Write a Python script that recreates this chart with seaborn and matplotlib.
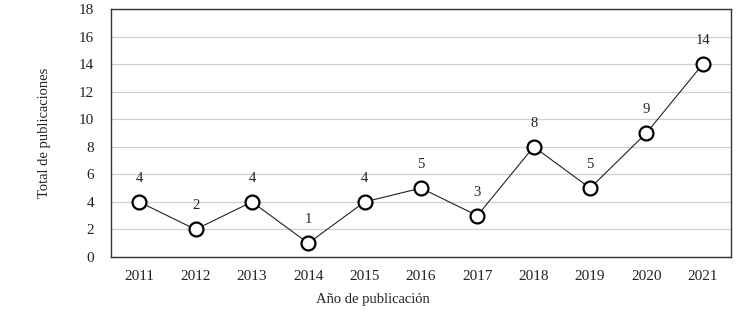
import matplotlib
matplotlib.use("Agg")
import matplotlib.pyplot as plt
import seaborn as sns
import pandas as pd

years = ["2011", "2012", "2013", "2014", "2015", "2016", "2017", "2018", "2019", "2020", "2021"]
counts = [4, 2, 4, 1, 4, 5, 3, 8, 5, 9, 14]
y_ticks = [0, 2, 4, 6, 8, 10, 12, 14, 16, 18]

sns.set_theme(style="white")
plt.rcParams["font.family"] = ["Liberation Serif", "DejaVu Serif"]

df = pd.DataFrame({"year": years, "count": counts})

fig = plt.figure(figsize=(7.43, 3.15), dpi=100)
ax = fig.add_axes([111 / 743, 1 - 257 / 315, 620 / 743, 248 / 315])

for t in y_ticks:
    ax.axhline(t, color="#d0d0d0", lw=0.9, zorder=0)

sns.lineplot(data=df, x="year", y="count", ax=ax, color="#222222", lw=0.8,
             marker="o", markersize=10, markerfacecolor="white",
             markeredgecolor="black", markeredgewidth=1.6, sort=False, zorder=3)

for i, v in enumerate(counts):
    ax.annotate(str(v), (i, v), xytext=(0, 17), textcoords="offset points",
                ha="center", va="center", fontsize=10.5, color="#222222")

ax.set_xlim(-0.5, 10.5)
ax.set_ylim(0, 18)
ax.set_yticks(y_ticks)
ax.tick_params(axis="both", length=0, labelsize=11, colors="#222222")
ax.tick_params(axis="x", pad=9)
ax.tick_params(axis="y", pad=12)
for s in ax.spines.values():
    s.set_color("#333333")
    s.set_linewidth(1.0)
ax.set_xlabel("Año de publicación", fontsize=10.5, color="#222222", va="center")
ax.xaxis.set_label_coords((373 - 111) / 620, (257 - 300) / 248)
ax.set_ylabel("Total de publicaciones", fontsize=10.5, labelpad=20, color="#222222")

fig.savefig("out.png", dpi=100)
